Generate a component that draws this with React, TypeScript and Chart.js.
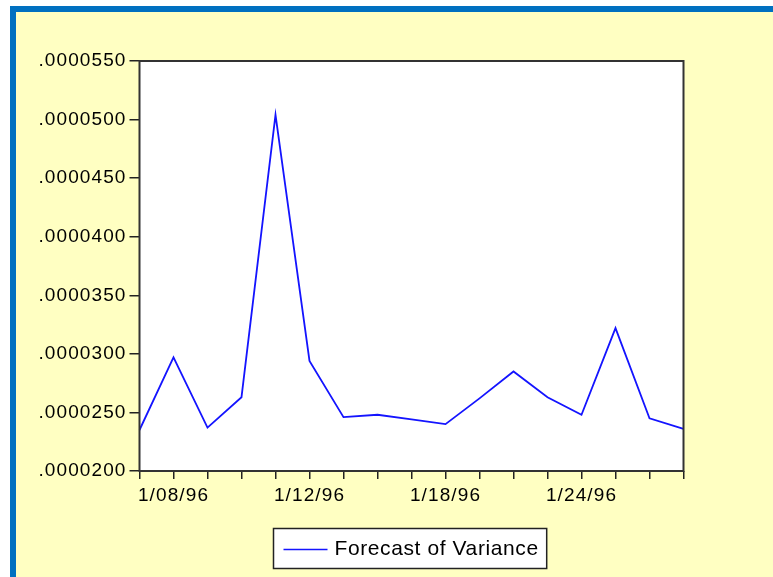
import { useEffect, useRef } from 'react';
import { Chart, registerables } from 'chart.js';

Chart.register(...registerables);

const dates = [
  '1/05/96', '1/08/96', '1/09/96', '1/10/96', '1/11/96', '1/12/96',
  '1/15/96', '1/16/96', '1/17/96', '1/18/96', '1/19/96', '1/22/96',
  '1/23/96', '1/24/96', '1/25/96', '1/26/96', '1/29/96',
];
const forecastVariance = [
  0.0000235, 0.0000297, 0.0000237, 0.0000263, 0.0000504, 0.0000294,
  0.0000246, 0.0000248, 0.0000244, 0.0000240, 0.0000262, 0.0000285,
  0.0000263, 0.0000248, 0.0000322, 0.0000245, 0.0000236,
];
const labeledDates = ['1/08/96', '1/12/96', '1/18/96', '1/24/96'];
const yTickValues = [0.00002, 0.000025, 0.00003, 0.000035, 0.00004, 0.000045, 0.00005, 0.000055];
const yTickLabels = ['.0000200', '.0000250', '.0000300', '.0000350', '.0000400', '.0000450', '.0000500', '.0000550'];
const seriesLabel = 'Forecast of Variance';

const FONT = "'Liberation Sans', Arial, sans-serif";

export default function App() {
  const ref = useRef<HTMLCanvasElement | null>(null);

  useEffect(() => {
    if (!ref.current) return;
    const framePlugin = {
      id: 'frame',
      beforeDraw(chart: any) {
        const ctx = chart.ctx;
        const { width, height, chartArea } = chart;
        ctx.save();
        ctx.fillStyle = '#ffffff';
        ctx.fillRect(0, 0, width, height);
        ctx.fillStyle = '#0070c0';
        ctx.fillRect(10, 6, width - 10, 6);
        ctx.fillRect(10, 6, 6, height - 6);
        ctx.fillStyle = '#ffffc2';
        ctx.fillRect(16, 12, width - 16, height - 12);
        ctx.fillStyle = '#ffffff';
        ctx.fillRect(chartArea.left, chartArea.top, chartArea.right - chartArea.left, chartArea.bottom - chartArea.top);
        ctx.restore();
        (ctx as any).letterSpacing = '1.1px';
      },
      afterDraw(chart: any) {
        const ctx = chart.ctx;
        const { chartArea } = chart;
        ctx.save();
        ctx.strokeStyle = '#333333';
        ctx.lineWidth = 2;
        ctx.strokeRect(chartArea.left, chartArea.top, chartArea.right - chartArea.left, chartArea.bottom - chartArea.top);

        // legend
        const label = chart.data.datasets[0].label;
        ctx.font = `21px ${FONT}`;
        (ctx as any).letterSpacing = '0.6px';
        const tw = ctx.measureText(label).width;
        const lineLen = 44;
        const boxW = 10 + lineLen + 7 + tw + 8;
        const cx = (chartArea.left + chartArea.right) / 2 - 2;
        const bx = Math.round(cx - boxW / 2) + 0.5;
        const by = chartArea.bottom + 57.5;
        const bh = 40;
        ctx.fillStyle = '#ffffff';
        ctx.fillRect(bx, by, boxW, bh);
        ctx.strokeStyle = '#222222';
        ctx.lineWidth = 1.5;
        ctx.strokeRect(bx, by, boxW, bh);
        ctx.strokeStyle = chart.data.datasets[0].borderColor;
        ctx.lineWidth = 1.5;
        ctx.beginPath();
        ctx.moveTo(bx + 10, by + 21);
        ctx.lineTo(bx + 10 + lineLen, by + 21);
        ctx.stroke();
        ctx.fillStyle = '#000000';
        ctx.textBaseline = 'middle';
        ctx.textAlign = 'left';
        ctx.fillText(label, bx + 10 + lineLen + 7, by + 20.5);
        ctx.restore();
      },
    };

    const chart = new Chart(ref.current, {
      type: 'line',
      data: {
        labels: dates,
        datasets: [
          {
            label: seriesLabel,
            data: forecastVariance,
            borderColor: '#1414ff',
            borderWidth: 1.8,
            pointRadius: 0,
            tension: 0,
            fill: false,
          },
        ],
      },
      options: {
        responsive: false,
        animation: false,
        devicePixelRatio: 1,
        layout: { padding: { left: 0, right: 89.5, top: 61, bottom: 0 } },
        plugins: {
          legend: { display: false },
          tooltip: { enabled: false },
        },
        scales: {
          x: {
            type: 'category',
            offset: false,
            grid: {
              drawOnChartArea: false,
              drawTicks: true,
              tickLength: 8,
              color: '#222222',
              lineWidth: 1.5,
              offset: false,
            },
            border: { display: false },
            ticks: {
              autoSkip: false,
              maxRotation: 0,
              minRotation: 0,
              padding: 5,
              color: '#000000',
              font: { family: FONT, size: 19 },
              callback: (_v: any, i: number) => (labeledDates.includes(dates[i]) ? dates[i] : ''),
            },
            afterFit: (s: any) => {
              s.height = 106;
            },
          },
          y: {
            min: yTickValues[0],
            max: yTickValues[yTickValues.length - 1],
            grid: {
              drawOnChartArea: false,
              drawTicks: true,
              tickLength: 10,
              color: '#222222',
              lineWidth: 1.5,
            },
            border: { display: false },
            ticks: {
              stepSize: yTickValues[1] - yTickValues[0],
              padding: 3,
              color: '#000000',
              font: { family: FONT, size: 19 },
              callback: (v: any) => {
                const n = Number(v);
                let best = 0;
                for (let k = 1; k < yTickValues.length; k++) {
                  if (Math.abs(yTickValues[k] - n) < Math.abs(yTickValues[best] - n)) best = k;
                }
                return yTickLabels[best];
              },
            },
            afterFit: (s: any) => {
              s.width = 139.5;
            },
          },
        },
      },
      plugins: [framePlugin],
    });
    return () => chart.destroy();
  }, []);

  return (
    <div style={{ position: 'fixed', left: 0, top: 0, width: 773, height: 577 }}>
      <canvas ref={ref} width={773} height={577} style={{ display: 'block', width: 773, height: 577 }} />
    </div>
  );
}
